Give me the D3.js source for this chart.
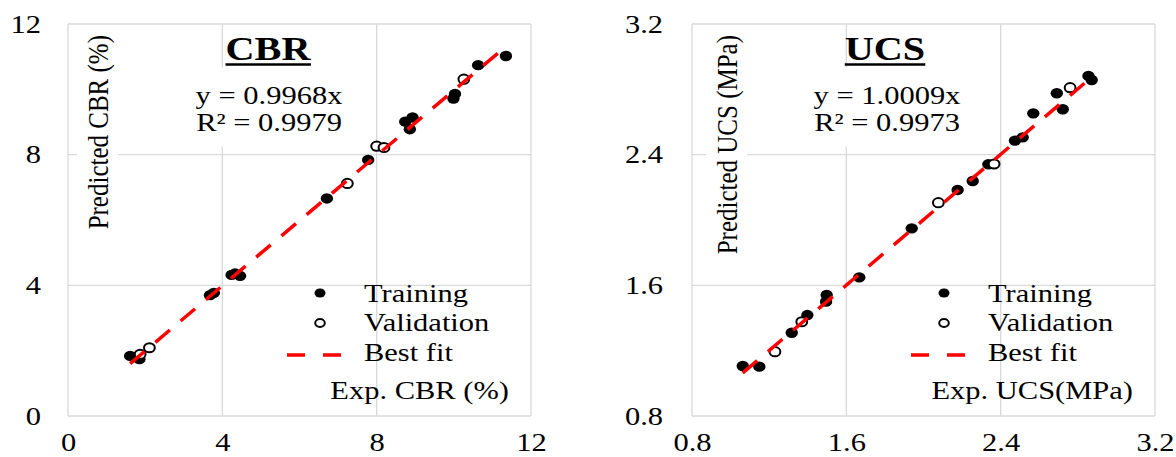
<!DOCTYPE html>
<html>
<head>
<meta charset="utf-8">
<script src="https://cdn.jsdelivr.net/npm/d3@7"></script>
<style>
  body { margin: 0; background: #fff; }
  svg { display: block; }
  text { font-family: "Liberation Serif", "Times New Roman", serif; fill: #000; }
</style>
</head>
<body>
<div id="chart"></div>
<script>
// CBR panel data
var cbrTicks = [0, 4, 8, 12];
var cbrTrainX = [1.61, 1.85, 3.68, 3.78, 4.24, 4.33, 4.46, 6.71, 7.78, 8.74, 8.86, 8.93, 9.99, 10.03, 10.63, 11.35];
var cbrTrainY = [1.84, 1.74, 3.70, 3.77, 4.32, 4.36, 4.29, 6.66, 7.84, 9.01, 8.78, 9.14, 9.72, 9.86, 10.74, 11.02];
var cbrValX = [1.87, 2.11, 7.24, 8.00, 8.19, 10.26];
var cbrValY = [1.89, 2.09, 7.12, 8.26, 8.22, 10.31];
var cbrSlope = 0.9968;

// UCS panel data
var ucsTicks = [0.8, 1.6, 2.4, 3.2];
var ucsTrainX = [1.063, 1.149, 1.317, 1.398, 1.498, 1.495, 1.667, 1.939, 2.177, 2.255, 2.336, 2.474, 2.514, 2.569, 2.691, 2.722, 2.855, 2.872];
var ucsTrainY = [1.106, 1.102, 1.310, 1.418, 1.541, 1.500, 1.649, 1.949, 2.184, 2.239, 2.341, 2.486, 2.506, 2.653, 2.776, 2.678, 2.882, 2.857];
var ucsValX = [1.230, 1.369, 2.077, 2.366, 2.760];
var ucsValY = [1.194, 1.377, 2.106, 2.343, 2.810];
var ucsSlope = 1.0009;

function init() {
    var w = 1176;
    var h = 457;
    var SX = 1.22; // the source picture is stretched sideways

    var svg = d3.select("#chart").append("svg")
        .attr("width", w)
        .attr("height", h);

    var panels = [
        { x0: 68, x1: 531, ticks: cbrTicks, fmt: d3.format("d"),
          trainX: cbrTrainX, trainY: cbrTrainY, valX: cbrValX, valY: cbrValY, slope: cbrSlope,
          title: "CBR", eq: "y = 0.9968x", r2: "R\u00B2 = 0.9979", titleX: 268, eqX: 269,
          yLabel: "Predicted CBR (%)", yLabelX: 108, xLabel: "Exp. CBR (%)", tickGap: 27 },
        { x0: 692, x1: 1155, ticks: ucsTicks, fmt: d3.format(".1f"),
          trainX: ucsTrainX, trainY: ucsTrainY, valX: ucsValX, valY: ucsValY, slope: ucsSlope,
          title: "UCS", eq: "y = 1.0009x", r2: "R\u00B2 = 0.9973", titleX: 885, eqX: 887,
          yLabel: "Predicted UCS (MPa)", yLabelX: 737, xLabel: "Exp. UCS(MPa)", tickGap: 29 }
    ];

    panels.forEach(function(p) { drawPanel(p); });

    // text group stretched like the source
    function label(g, str, x, y, opt) {
        opt = opt || {};
        var t = g.append("g")
            .attr("transform", `translate(${x},${y}) scale(${SX},1)` + (opt.rotate ? ` rotate(${opt.rotate})` : ""));
        var txt = t.append("text")
            .attr("text-anchor", opt.anchor || "start")
            .style("font-size", (opt.size || 25) + "px")
            .style("font-weight", opt.bold ? "bold" : "normal")
            .text(str);
        if (opt.box) {
            var b = txt.node().getBBox();
            t.insert("rect", "text")
                .attr("x", b.x - 3).attr("y", b.y - 3)
                .attr("width", b.width + 6).attr("height", b.height + 6)
                .attr("fill", "#fff");
        }
        return t;
    }

    function drawPanel(p) {
        var dom = [p.ticks[0], p.ticks[p.ticks.length - 1]];
        var xScale = d3.scaleLinear().domain(dom).range([p.x0, p.x1]);
        var yScale = d3.scaleLinear().domain(dom).range([416, 24]);

        var g = svg.append("g");

        // gridlines
        g.selectAll(".vgrid")
            .data(p.ticks)
            .enter()
            .append("line")
            .attr("x1", d => xScale(d)).attr("x2", d => xScale(d))
            .attr("y1", yScale(dom[0])).attr("y2", yScale(dom[1]))
            .attr("stroke", "#d9d9d9").attr("stroke-width", 1.3);
        g.selectAll(".hgrid")
            .data(p.ticks)
            .enter()
            .append("line")
            .attr("y1", d => yScale(d)).attr("y2", d => yScale(d))
            .attr("x1", xScale(dom[0])).attr("x2", xScale(dom[1]))
            .attr("stroke", "#d9d9d9").attr("stroke-width", 1.3);

        // Y axis ticks
        var yAxis = g.append("g")
            .attr("transform", `translate(${p.x0},0)`)
            .call(d3.axisLeft(yScale).tickValues(p.ticks).tickFormat(p.fmt).tickSize(0));
        yAxis.select(".domain").remove();
        yAxis.selectAll("text")
            .attr("x", -p.tickGap / SX)
            .attr("transform", `scale(${SX},1)`)
            .style("font-size", "25px")
            .style("font-family", "Liberation Serif, serif")
            .attr("fill", "#000");

        // X axis ticks
        var xAxis = g.append("g")
            .attr("transform", `translate(0,416)`)
            .call(d3.axisBottom(xScale).tickValues(p.ticks).tickFormat(p.fmt).tickSize(0).tickPadding(17));
        xAxis.select(".domain").remove();
        xAxis.selectAll("text")
            .attr("transform", `scale(${SX},1)`)
            .style("font-size", "25px")
            .style("font-family", "Liberation Serif, serif")
            .attr("fill", "#000");

        // Y axis label (rotated, top aligned)
        label(g, p.yLabel, p.yLabelX, 35, { anchor: "end", rotate: -90, box: true });

        // trendline equation box
        var eg = g.append("g").attr("transform", `translate(${p.eqX},0) scale(${SX},1)`);
        eg.append("text").attr("text-anchor", "middle").attr("y", 104).style("font-size", "25px").text(p.eq);
        eg.append("text").attr("text-anchor", "middle").attr("y", 131).style("font-size", "25px").text(p.r2);
        var eb = eg.node().getBBox();
        eg.insert("rect", "text")
            .attr("x", eb.x - 3).attr("y", eb.y - 14)
            .attr("width", eb.width + 6).attr("height", eb.height + 24)
            .attr("fill", "#fff");

        // title with underline
        var tg = label(g, p.title, p.titleX, 60, { anchor: "middle", size: 33, bold: true });
        var tb = tg.select("text").node().getBBox();
        tg.append("line")
            .attr("x1", tb.x).attr("x2", tb.x + tb.width)
            .attr("y1", 4.5).attr("y2", 4.5)
            .attr("stroke", "#000").attr("stroke-width", 2.5);

        // X axis label inside plot
        label(g, p.xLabel, p.x1 - 22, 399, { anchor: "end" });

        // training points
        g.selectAll(".train")
            .data(p.trainX.map((d, i) => ({ x: d, y: p.trainY[i] })))
            .enter()
            .append("ellipse")
            .attr("cx", d => xScale(d.x))
            .attr("cy", d => yScale(d.y))
            .attr("rx", 6.2).attr("ry", 5.2)
            .attr("fill", "#000");

        // validation points
        g.selectAll(".val")
            .data(p.valX.map((d, i) => ({ x: d, y: p.valY[i] })))
            .enter()
            .append("ellipse")
            .attr("cx", d => xScale(d.x))
            .attr("cy", d => yScale(d.y))
            .attr("rx", 5.4).attr("ry", 4.6)
            .attr("fill", "#fff")
            .attr("stroke", "#000").attr("stroke-width", 2);

        // best fit line over the data range
        var allX = p.trainX.concat(p.valX);
        var ext = d3.extent(allX);
        g.append("path")
            .datum(ext)
            .attr("d", d3.line().x(d => xScale(d)).y(d => yScale(p.slope * d)))
            .attr("fill", "none")
            .attr("stroke", "#ff0000")
            .attr("stroke-width", 3.5)
            .attr("stroke-dasharray", "19,14");

        // legend
        var lx = p.x0 + 252;
        g.append("ellipse").attr("cx", lx).attr("cy", 293).attr("rx", 5.5).attr("ry", 4.6).attr("fill", "#000");
        g.append("ellipse").attr("cx", lx).attr("cy", 323).attr("rx", 4.8).attr("ry", 4).attr("fill", "#fff")
            .attr("stroke", "#000").attr("stroke-width", 2);
        g.append("line")
            .attr("x1", lx - 33).attr("x2", lx + 21)
            .attr("y1", 355).attr("y2", 355)
            .attr("stroke", "#ff0000").attr("stroke-width", 3.5)
            .attr("stroke-dasharray", "18,18");
        label(g, "Training", lx + 44, 302);
        label(g, "Validation", lx + 44, 331);
        label(g, "Best fit", lx + 44, 361);
    }
}

window.onload = init;
</script>
</body>
</html>
